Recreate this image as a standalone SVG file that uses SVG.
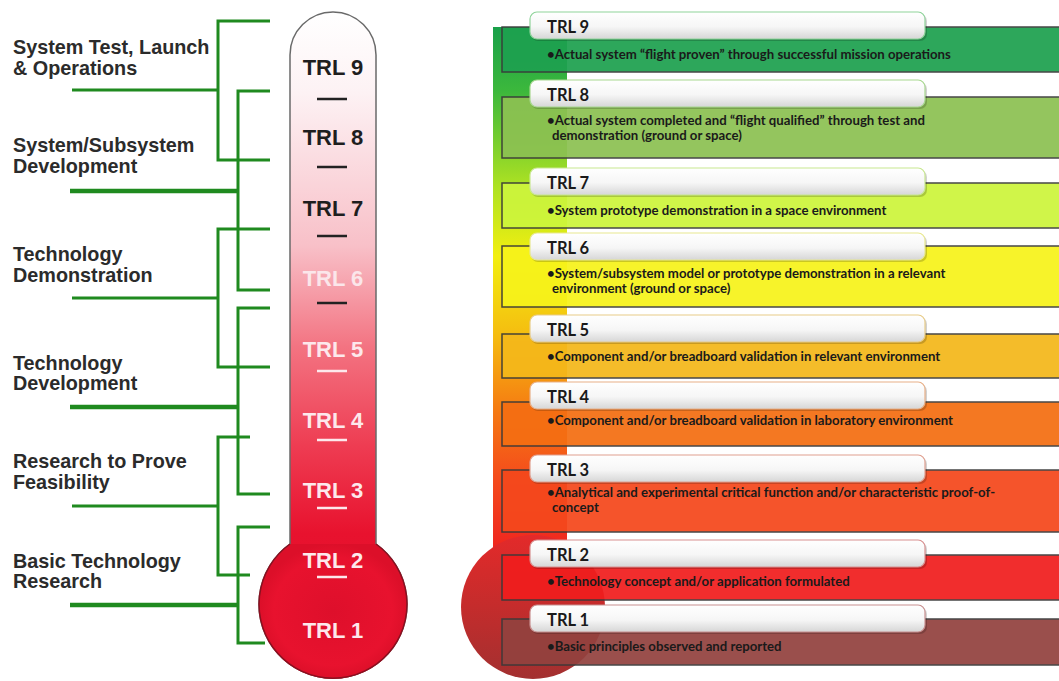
<svg xmlns="http://www.w3.org/2000/svg" width="1059" height="681" viewBox="0 0 1059 681">
<defs>
<style>
.lbl{font-family:"Liberation Sans",Arial,sans-serif;font-weight:bold;font-size:19.8px;fill:#2b2b2b}
.br{fill:none;stroke:#1f8a1f;stroke-width:3}
.stub{stroke:#1f8a1f;stroke-width:3}
.stubw{stroke:#1f8a1f;stroke-width:4.5}
.th{font-family:"Liberation Sans",Arial,sans-serif;font-weight:bold;font-size:22px;text-anchor:middle}
.dk{fill:#1e1e1e}
.wt{fill:#fde8ec}
.dashd{stroke:#222;stroke-width:2.5}
.dashw{stroke:#fde8ec;stroke-width:2.5}
.body{stroke:#3a3a3a;stroke-width:1.5;opacity:0.93}
.tab{fill:url(#tabg);stroke-width:1.2}
.tsh{fill:#000;opacity:0.18}
.tl{font-family:Lato,"Open Sans",sans-serif;font-weight:bold;font-size:16.5px;fill:#1a1a1a}
.tx{font-family:Lato,"Open Sans",sans-serif;font-weight:bold;font-size:13.2px;fill:#1a1a1a}
</style>
<linearGradient id="thg" x1="0" y1="12" x2="0" y2="680" gradientUnits="userSpaceOnUse">
<stop offset="0" stop-color="#ffffff"/>
<stop offset="0.12" stop-color="#fdf2f4"/>
<stop offset="0.35" stop-color="#f8c0c8"/>
<stop offset="0.5" stop-color="#f37482"/>
<stop offset="0.65" stop-color="#ee3c52"/>
<stop offset="0.78" stop-color="#e8122e"/>
<stop offset="1" stop-color="#e0102a"/>
</linearGradient>
<radialGradient id="bulbg" cx="0.5" cy="0.5" r="0.5">
<stop offset="0" stop-color="#de0f2b"/>
<stop offset="0.8" stop-color="#e8122e"/>
<stop offset="1" stop-color="#dc0f29"/>
</radialGradient>
<linearGradient id="strip" x1="0" y1="27" x2="0" y2="560" gradientUnits="userSpaceOnUse">
<stop offset="0" stop-color="#19a04a"/>
<stop offset="0.12" stop-color="#3cb83c"/>
<stop offset="0.3" stop-color="#aee222"/>
<stop offset="0.43" stop-color="#f2ef10"/>
<stop offset="0.58" stop-color="#f5bc10"/>
<stop offset="0.72" stop-color="#f57a12"/>
<stop offset="0.85" stop-color="#f44a1c"/>
<stop offset="1" stop-color="#ee2020"/>
</linearGradient>
<linearGradient id="circg" x1="0" y1="535" x2="0" y2="680" gradientUnits="userSpaceOnUse">
<stop offset="0" stop-color="#e32a2a"/>
<stop offset="0.5" stop-color="#c42c2c"/>
<stop offset="1" stop-color="#a23030"/>
</linearGradient>
<linearGradient id="tabg" x1="0" y1="0" x2="0" y2="1">
<stop offset="0" stop-color="#ffffff"/>
<stop offset="0.55" stop-color="#f6f6f6"/>
<stop offset="1" stop-color="#d6d6d6"/>
</linearGradient>
</defs>
<rect width="1059" height="681" fill="#ffffff"/>

<g id="left-labels">
<text class="lbl" x="13" y="54">System Test, Launch</text>
<text class="lbl" x="13" y="75">&amp; Operations</text>
<text class="lbl" x="13" y="152">System/Subsystem</text>
<text class="lbl" x="13" y="173">Development</text>
<text class="lbl" x="13" y="261">Technology</text>
<text class="lbl" x="13" y="282">Demonstration</text>
<text class="lbl" x="13" y="370">Technology</text>
<text class="lbl" x="13" y="390">Development</text>
<text class="lbl" x="13" y="468">Research to Prove</text>
<text class="lbl" x="13" y="489">Feasibility</text>
<text class="lbl" x="13" y="568">Basic Technology</text>
<text class="lbl" x="13" y="588">Research</text>
</g>

<g id="connectors">
<path class="br" d="M270,21 H218 V160 H270"/>
<line class="stub" x1="72" y1="90" x2="218" y2="90"/>
<path class="br" d="M270,91 H238 V290 H270"/>
<line class="stubw" x1="70" y1="191" x2="238" y2="191"/>
<path class="br" d="M270,229 H218 V367 H270"/>
<line class="stub" x1="72" y1="298" x2="218" y2="298"/>
<path class="br" d="M270,308 H238 V494 H270"/>
<line class="stubw" x1="70" y1="407" x2="238" y2="407"/>
<path class="br" d="M250,437 H218 V575 H250"/>
<line class="stub" x1="72" y1="506" x2="218" y2="506"/>
<path class="br" d="M270,527 H238 V643 H265"/>
<line class="stubw" x1="70" y1="605" x2="238" y2="605"/>
</g>

<g id="thermometer">
<path d="M290,544 L290,55 A43,43 0 0 1 376,55 L376,544 A74,74 0 1 1 290,544 Z" fill="url(#thg)" stroke="#6a6a6a" stroke-width="1.5"/>
<path d="M290.8,544 A74,74 0 1 0 375.2,544 Z" fill="url(#bulbg)"/>
<path d="M290,544 A74,74 0 1 0 376,544" fill="none" stroke="#8a1020" stroke-width="1.5"/>
<text class="th dk" x="333" y="75">TRL 9</text>
<line class="dashd" x1="317" y1="99" x2="347" y2="99"/>
<text class="th dk" x="333" y="145">TRL 8</text>
<line class="dashd" x1="317" y1="167" x2="347" y2="167"/>
<text class="th dk" x="333" y="216">TRL 7</text>
<line class="dashd" x1="317" y1="236" x2="347" y2="236"/>
<text class="th" x="333" y="286" fill="#fbe6ea">TRL 6</text>
<line class="dashd" x1="317" y1="303" x2="347" y2="303"/>
<text class="th wt" x="333" y="357">TRL 5</text>
<line class="dashw" x1="317" y1="371" x2="347" y2="371"/>
<text class="th wt" x="333" y="428">TRL 4</text>
<line class="dashw" x1="317" y1="440" x2="347" y2="440"/>
<text class="th wt" x="333" y="498">TRL 3</text>
<line class="dashw" x1="317" y1="508" x2="347" y2="508"/>
<text class="th wt" x="333" y="568">TRL 2</text>
<line class="dashw" x1="317" y1="577" x2="347" y2="577"/>
<text class="th wt" x="333" y="638">TRL 1</text>
</g>

<g id="scale-backdrop">
<rect x="493" y="27" width="74" height="560" fill="url(#strip)"/>
<circle cx="533" cy="607" r="72" fill="url(#circg)"/>
</g>

<g id="trl9">
<rect class="body" x="502" y="27" width="560" height="45" fill="#1ea14f"/>
<rect class="tsh" x="531" y="14" width="396" height="27" rx="7"/>
<rect class="tab" x="530" y="12" width="395" height="27" rx="7" stroke="#8fd39a"/>
<text class="tl" x="547" y="33">TRL 9</text>
<text class="tx" x="547" y="59">•Actual system “flight proven” through successful mission operations</text>
</g>
<g id="trl8">
<rect class="body" x="502" y="97" width="560" height="61" fill="#8cc152"/>
<rect class="tsh" x="531" y="82" width="396" height="27" rx="7"/>
<rect class="tab" x="530" y="80" width="395" height="27" rx="7" stroke="#a8d890"/>
<text class="tl" x="547" y="101">TRL 8</text>
<text class="tx" x="547" y="125">•Actual system completed and “flight qualified” through test and</text>
<text class="tx" x="552" y="140">demonstration (ground or space)</text>
</g>
<g id="trl7">
<rect class="body" x="502" y="183" width="560" height="45" fill="#cdf53c"/>
<rect class="tsh" x="531" y="170" width="396" height="27" rx="7"/>
<rect class="tab" x="530" y="168" width="395" height="27" rx="7" stroke="#c8e890"/>
<text class="tl" x="547" y="189">TRL 7</text>
<text class="tx" x="547" y="215">•System prototype demonstration in a space environment</text>
</g>
<g id="trl6">
<rect class="body" x="502" y="246" width="560" height="61" fill="#f7f31a"/>
<rect class="tsh" x="531" y="235" width="396" height="27" rx="7"/>
<rect class="tab" x="530" y="233" width="395" height="27" rx="7" stroke="#e8e890"/>
<text class="tl" x="547" y="254">TRL 6</text>
<text class="tx" x="547" y="278">•System/subsystem model or prototype demonstration in a relevant</text>
<text class="tx" x="552" y="293">environment (ground or space)</text>
</g>
<g id="trl5">
<rect class="body" x="502" y="334" width="560" height="44" fill="#f4b81a"/>
<rect class="tsh" x="531" y="317" width="396" height="27" rx="7"/>
<rect class="tab" x="530" y="315" width="395" height="27" rx="7" stroke="#e8cc88"/>
<text class="tl" x="547" y="336">TRL 5</text>
<text class="tx" x="547" y="361">•Component and/or breadboard validation in relevant environment</text>
</g>
<g id="trl4">
<rect class="body" x="502" y="402" width="560" height="44" fill="#f46e12"/>
<rect class="tsh" x="531" y="384" width="396" height="27" rx="7"/>
<rect class="tab" x="530" y="382" width="395" height="27" rx="7" stroke="#e8b088"/>
<text class="tl" x="547" y="403">TRL 4</text>
<text class="tx" x="547" y="425">•Component and/or breadboard validation in laboratory environment</text>
</g>
<g id="trl3">
<rect class="body" x="502" y="470" width="560" height="62" fill="#f5481c"/>
<rect class="tsh" x="531" y="457" width="396" height="27" rx="7"/>
<rect class="tab" x="530" y="455" width="395" height="27" rx="7" stroke="#e0a090"/>
<text class="tl" x="547" y="476">TRL 3</text>
<text class="tx" x="547" y="497">•Analytical and experimental critical function and/or characteristic proof-of-</text>
<text class="tx" x="552" y="512">concept</text>
</g>
<g id="trl2">
<rect class="body" x="502" y="555" width="560" height="45" fill="#f01e1e"/>
<rect class="tsh" x="531" y="542" width="396" height="27" rx="7"/>
<rect class="tab" x="530" y="540" width="395" height="27" rx="7" stroke="#d89090"/>
<text class="tl" x="547" y="561">TRL 2</text>
<text class="tx" x="547" y="586">•Technology concept and/or application formulated</text>
</g>
<g id="trl1">
<rect class="body" x="502" y="619" width="560" height="46" fill="#93423f"/>
<rect class="tsh" x="531" y="607" width="396" height="27" rx="7"/>
<rect class="tab" x="530" y="605" width="395" height="27" rx="7" stroke="#c89090"/>
<text class="tl" x="547" y="626">TRL 1</text>
<text class="tx" x="547" y="651">•Basic principles observed and reported</text>
</g>
</svg>
